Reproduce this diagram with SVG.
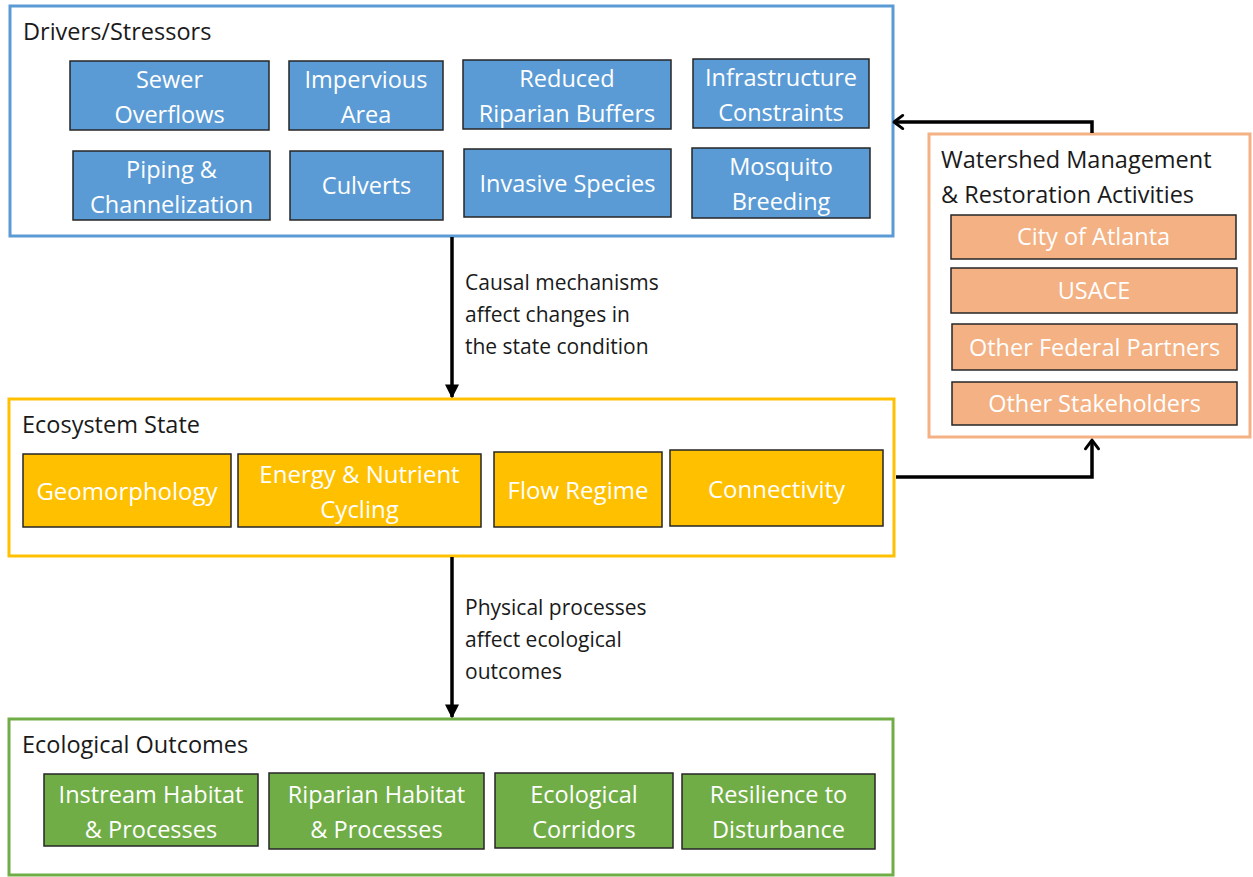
<svg xmlns="http://www.w3.org/2000/svg" width="1253" height="877" viewBox="0 0 1253 877">
<defs>
<marker id="ah" viewBox="0 0 10 10" refX="9" refY="5" markerWidth="4" markerHeight="4" orient="auto" markerUnits="strokeWidth">
<path d="M0,0 L10,5 L0,10 z" fill="#000"/>
</marker>
<marker id="ahOpen" viewBox="0 0 12 12" refX="10" refY="6" markerWidth="5" markerHeight="5" orient="auto" markerUnits="strokeWidth">
<path d="M4,1.5 L10,6 L4,10.5" fill="none" stroke="#000" stroke-width="2" stroke-linecap="round" stroke-linejoin="round"/>
</marker>
</defs>
<style>
text{font-family:"Open Sans",Lato,"Liberation Sans",sans-serif;}
.title{font-size:23.5px;fill:#1a1a1a;}
.lbl{font-size:21px;fill:#1a1a1a;}
.in{font-size:23.5px;fill:#fff;text-anchor:middle;}
.big{font-size:24px;}
.box{stroke:#262626;stroke-width:1.5;}
.blue{fill:#5B9BD5;}
.orange{fill:#F4B183;}
.gold{fill:#FFC000;}
.green{fill:#70AD47;}
.conn{fill:none;stroke:#000;stroke-width:3.5;}
</style>
<rect width="1253" height="877" fill="#fff"/>

<g id="drivers">
<rect x="10" y="6" width="883" height="230" fill="#fff" stroke="#5B9BD5" stroke-width="3"/>
<text class="title" x="23" y="40">Drivers/Stressors</text>
</g>
<g id="sewer"><rect class="box blue" x="70" y="61" width="199" height="69"/><text class="in" x="169.5" y="88">Sewer</text><text class="in" x="169.5" y="123">Overflows</text></g>
<g id="impervious"><rect class="box blue" x="289" y="61" width="154" height="69"/><text class="in" x="366" y="88">Impervious</text><text class="in" x="366" y="123">Area</text></g>
<g id="riparian-buffers"><rect class="box blue" x="463" y="60" width="208" height="69"/><text class="in" x="567" y="87">Reduced</text><text class="in" x="567" y="122">Riparian Buffers</text></g>
<g id="infrastructure"><rect class="box blue" x="693" y="59" width="176" height="69"/><text class="in" x="781" y="86">Infrastructure</text><text class="in" x="781" y="121">Constraints</text></g>
<g id="piping"><rect class="box blue" x="73" y="151" width="197" height="69"/><text class="in" x="171.5" y="178">Piping &amp;</text><text class="in" x="171.5" y="213">Channelization</text></g>
<g id="culverts"><rect class="box blue" x="290" y="151" width="153" height="69"/><text class="in" x="366.5" y="194">Culverts</text></g>
<g id="invasive"><rect class="box blue" x="464" y="149" width="207" height="68"/><text class="in" x="567.5" y="192">Invasive Species</text></g>
<g id="mosquito"><rect class="box blue" x="692" y="148" width="178" height="70"/><text class="in" x="781" y="175">Mosquito</text><text class="in" x="781" y="210">Breeding</text></g>

<g id="watershed">
<rect x="929" y="134" width="321" height="303" fill="#fff" stroke="#F4B183" stroke-width="3"/>
<text class="title" x="941" y="168">Watershed Management</text>
<text class="title" x="941" y="203">&amp; Restoration Activities</text>
</g>
<g id="atlanta"><rect class="box orange" x="951" y="215" width="285" height="44"/><text class="in" x="1093.5" y="245">City of Atlanta</text></g>
<g id="usace"><rect class="box orange" x="951" y="268" width="286" height="45"/><text class="in" x="1094" y="299">USACE</text></g>
<g id="federal"><rect class="box orange" x="952" y="324" width="285" height="46"/><text class="in" x="1094.5" y="356">Other Federal Partners</text></g>
<g id="stakeholders"><rect class="box orange" x="952" y="382" width="285" height="43"/><text class="in" x="1094.5" y="412">Other Stakeholders</text></g>

<g id="ecosystem">
<rect x="9" y="399" width="885" height="157" fill="#fff" stroke="#FFC000" stroke-width="3"/>
<text class="title" x="22" y="433">Ecosystem State</text>
</g>
<g id="geomorphology"><rect class="box gold" x="23" y="454" width="208" height="73"/><text class="in big" x="127" y="500">Geomorphology</text></g>
<g id="energy"><rect class="box gold" x="238" y="454" width="243" height="73"/><text class="in big" x="359.5" y="483">Energy &amp; Nutrient</text><text class="in big" x="359.5" y="518">Cycling</text></g>
<g id="flow"><rect class="box gold" x="494" y="452" width="168" height="75"/><text class="in big" x="578" y="499">Flow Regime</text></g>
<g id="connectivity"><rect class="box gold" x="670" y="450" width="213" height="76"/><text class="in big" x="776.5" y="498">Connectivity</text></g>

<g id="outcomes">
<rect x="9" y="719" width="884" height="156" fill="#fff" stroke="#70AD47" stroke-width="3"/>
<text class="title" x="22" y="753">Ecological Outcomes</text>
</g>
<g id="instream"><rect class="box green" x="44" y="774" width="214" height="72"/><text class="in" x="151" y="803">Instream Habitat</text><text class="in" x="151" y="838">&amp; Processes</text></g>
<g id="riparian-habitat"><rect class="box green" x="269" y="773" width="215" height="76"/><text class="in" x="376.5" y="803">Riparian Habitat</text><text class="in" x="376.5" y="838">&amp; Processes</text></g>
<g id="corridors"><rect class="box green" x="495" y="773" width="178" height="75"/><text class="in" x="584" y="803">Ecological</text><text class="in" x="584" y="838">Corridors</text></g>
<g id="resilience"><rect class="box green" x="682" y="774" width="193" height="75"/><text class="in" x="778.5" y="803">Resilience to</text><text class="in" x="778.5" y="838">Disturbance</text></g>

<g id="connectors">
<line class="conn" x1="452" y1="237" x2="452" y2="397" marker-end="url(#ah)"/>
<line class="conn" x1="452" y1="557" x2="452" y2="717" marker-end="url(#ah)"/>
<polyline class="conn" points="1092,133 1092,122 894,122" marker-end="url(#ahOpen)"/>
<polyline class="conn" points="896,477 1092,477 1092,440" marker-end="url(#ahOpen)"/>
<text class="lbl" x="465" y="290">Causal mechanisms</text>
<text class="lbl" x="465" y="322">affect changes in</text>
<text class="lbl" x="465" y="354">the state condition</text>
<text class="lbl" x="465" y="615">Physical processes</text>
<text class="lbl" x="465" y="647">affect ecological</text>
<text class="lbl" x="465" y="679">outcomes</text>
</g>
</svg>
